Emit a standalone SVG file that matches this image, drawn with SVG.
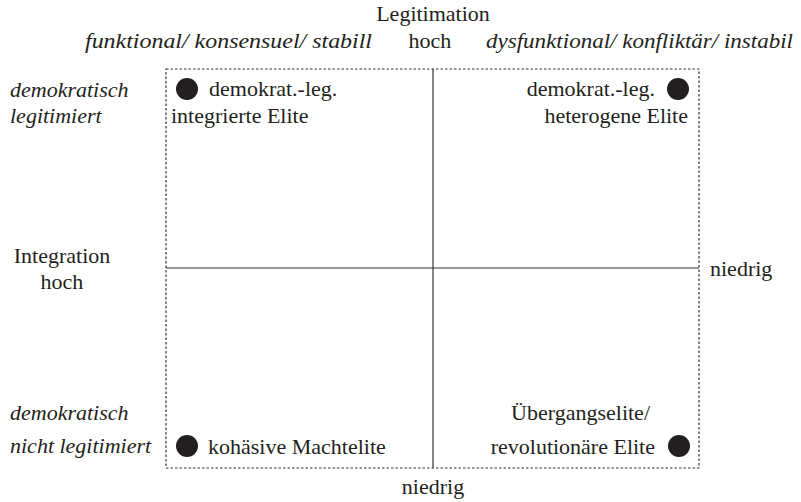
<svg xmlns="http://www.w3.org/2000/svg" width="801" height="502" viewBox="0 0 801 502">
<style>
text{font-family:'Liberation Serif','Times New Roman','DejaVu Serif',serif;font-size:22px;fill:#231f20}
.it{font-style:italic}
.m{text-anchor:middle}
.e{text-anchor:end}
.frame{fill:none;stroke:#333;stroke-width:1.2;stroke-dasharray:2.5 2}
.axis{stroke:#333;stroke-width:1.2}
.dot{fill:#231f20}
</style>
<rect width="801" height="502" fill="#fff"/>
<g id="axes-labels">
<text x="433" y="21" class="m">Legitimation</text>
<text x="85" y="48" class="it" textLength="287" lengthAdjust="spacingAndGlyphs">funktional/ konsensuel/ stabill</text>
<text x="430" y="48" class="m">hoch</text>
<text x="486" y="48" class="it" textLength="307" lengthAdjust="spacingAndGlyphs">dysfunktional/ konfliktär/ instabil</text>
<text x="10" y="97" class="it">demokratisch</text>
<text x="10" y="123" class="it">legitimiert</text>
<text x="62" y="263" class="m">Integration</text>
<text x="62" y="289" class="m">hoch</text>
<text x="710" y="276">niedrig</text>
<text x="10" y="420" class="it">demokratisch</text>
<text x="10" y="453" class="it">nicht legitimiert</text>
<text x="433" y="494" class="m">niedrig</text>
</g>
<g id="connectors">
<rect x="166" y="69" width="533" height="399" class="frame"/>
<line x1="433" y1="69" x2="433" y2="468" class="axis"/>
<line x1="166" y1="268" x2="699" y2="268" class="axis"/>
</g>
<g id="node-tl">
<circle cx="187" cy="89" r="11" class="dot"/>
<text x="209" y="96">demokrat.-leg.</text>
<text x="171" y="123">integrierte Elite</text>
</g>
<g id="node-tr">
<circle cx="678" cy="89" r="11" class="dot"/>
<text x="655" y="96" class="e">demokrat.-leg.</text>
<text x="688" y="123" class="e">heterogene Elite</text>
</g>
<g id="node-bl">
<circle cx="187" cy="446" r="11" class="dot"/>
<text x="208" y="454">kohäsive Machtelite</text>
</g>
<g id="node-br">
<circle cx="679" cy="446" r="11" class="dot"/>
<text x="650" y="420" class="e">Übergangselite/</text>
<text x="655" y="454" class="e">revolutionäre Elite</text>
</g>
</svg>
